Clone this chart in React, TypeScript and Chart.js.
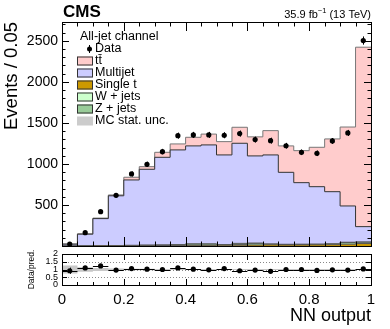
import React, { useEffect, useRef } from "react";
import { Chart, registerables } from "chart.js";
Chart.register(...registerables);

const FONT = "'Liberation Sans', Arial, Helvetica, sans-serif";

// Bin edges of the NN output histogram
const binEdges = [0, 0.05, 0.1, 0.15, 0.2, 0.25, 0.3, 0.35, 0.4, 0.45, 0.5, 0.55, 0.6, 0.65, 0.7, 0.75, 0.8, 0.85, 0.9, 0.95, 1];
const xTickValues = [0, 0.2, 0.4, 0.6, 0.8, 1];
const yTickValues = [500, 1000, 1500, 2000, 2500];
const ratioTickValues = [0, 0.5, 1, 1.5, 2];

// Observed data
const dataCounts = [23, 162, 418, 618, 878, 996, 1150, 1345, 1354, 1354, 1350, 1370, 1297, 1284, 1222, 1142, 1130, 1280, 1378, 2504];
const dataErr = [6, 13, 20, 25, 30, 32, 34, 37, 37, 37, 37, 37, 36, 36, 35, 34, 34, 36, 37, 50];

// Stacked predictions (bottom -> top: single t, Z+jets, W+jets, multijet, ttbar)
const singleTop = [0, 1, 2, 3, 4, 5, 6, 7, 8, 8, 9, 10, 12, 14, 12, 13, 14, 16, 22, 30];
const zJets = [0, 1, 1, 2, 3, 4, 5, 8, 15, 15, 6, 10, 20, 8, 6, 6, 6, 8, 20, 15];
const wJets = [0, 0, 1, 1, 1, 2, 2, 2, 3, 3, 3, 12, 3, 3, 3, 3, 3, 3, 4, 5];
const multijet = [22, 142, 330, 606, 797, 924, 1068, 1154, 1194, 1206, 1092, 1220, 1063, 1085, 877, 750, 700, 635, 442, 186];
const ttbar = [3, 4, 6, 10, 33, 32, 61, 73, 105, 132, 162, 195, 232, 296, 322, 390, 480, 643, 962, 2187];

// Ratio panel
const ratio = [0.92, 1.1, 1.23, 0.96, 1.06, 1.02, 1.0, 1.1, 1.02, 0.98, 1.06, 0.92, 0.96, 0.88, 1.0, 1.0, 0.94, 0.98, 0.96, 1.04];
const ratioErr = [0.2, 0.08, 0.05, 0.04, 0.035, 0.03, 0.03, 0.03, 0.03, 0.03, 0.03, 0.03, 0.03, 0.03, 0.03, 0.03, 0.03, 0.03, 0.03, 0.02];
const mcStatUnc = [0.26, 0.14, 0.1, 0.06, 0.05, 0.05, 0.04, 0.04, 0.04, 0.04, 0.04, 0.04, 0.04, 0.04, 0.04, 0.04, 0.04, 0.04, 0.04, 0.03];

const layers = [
  { label: "Single t", values: singleTop, fill: "#cc9900", line: "#555555" },
  { label: "Z + jets", values: zJets, fill: "#99cc99", line: "#555555" },
  { label: "W + jets", values: wJets, fill: "#ccffcc", line: "#555555" },
  { label: "Multijet", values: multijet, fill: "#ccccff", line: "#333333" },
  { label: "t\u0074\u0304", values: ttbar, fill: "#ffcccc", line: "#777777" },
];

const legendEntries = [
  { label: "t\u0074\u0304", fill: "#ffcccc" },
  { label: "Multijet", fill: "#ccccff" },
  { label: "Single t", fill: "#cc9900" },
  { label: "W + jets", fill: "#ccffcc" },
  { label: "Z + jets", fill: "#99cc99" },
  { label: "MC stat. unc.", fill: "#cccccc" },
];

const binCenters = binEdges.slice(0, -1).map((e, i) => (e + binEdges[i + 1]) / 2);

function stepPoints(vals: number[]) {
  // point at left edge of bin i carries nothing; the step into edge i+1 carries bin i
  return binEdges.map((e, i) => ({ x: e, y: vals[Math.min(i, vals.length - 1)] }));
}

function drawFrame(chart: any, yMinorStep: number, yMax: number, yMajorTest: (v: number) => boolean, xLen: [number, number], yLen: [number, number]) {
  const { ctx, chartArea: a, scales } = chart;
  const xs = scales.x;
  const ys = scales.y;
  ctx.save();
  ctx.strokeStyle = "#000";
  ctx.lineWidth = 1;
  ctx.beginPath();
  for (let k = 0; k <= 20; k++) {
    const v = k * 0.05;
    const px = Math.round(xs.getPixelForValue(v)) + 0.5;
    const major = k % 4 === 0;
    const len = major ? xLen[0] : xLen[1];
    ctx.moveTo(px, a.bottom);
    ctx.lineTo(px, a.bottom - len);
    ctx.moveTo(px, a.top);
    ctx.lineTo(px, a.top + len);
  }
  for (let v = 0; v <= yMax + 1e-9; v += yMinorStep) {
    const py = Math.round(ys.getPixelForValue(v)) + 0.5;
    const len = yMajorTest(v) ? yLen[0] : yLen[1];
    ctx.moveTo(a.left, py);
    ctx.lineTo(a.left + len, py);
    ctx.moveTo(a.right, py);
    ctx.lineTo(a.right - len, py);
  }
  ctx.stroke();
  ctx.strokeRect(Math.round(a.left) + 0.5, Math.round(a.top) + 0.5, Math.round(a.right - a.left), Math.round(a.bottom - a.top));
  ctx.restore();
}

const mainPlugin = {
  id: "mainDecor",
  afterDatasetsDraw(chart: any) {
    const { ctx, scales } = chart;
    const xs = scales.x;
    const ys = scales.y;
    ctx.save();
    ctx.strokeStyle = "#000";
    ctx.lineWidth = 1;
    ctx.beginPath();
    dataCounts.forEach((v, i) => {
      const px = Math.round(xs.getPixelForValue(binCenters[i])) + 0.5;
      ctx.moveTo(px, ys.getPixelForValue(v - dataErr[i]));
      ctx.lineTo(px, ys.getPixelForValue(v + dataErr[i]));
    });
    ctx.stroke();
    ctx.restore();
  },
  afterDraw(chart: any) {
    const { ctx, chartArea: a } = chart;
    drawFrame(chart, 100, 2700, (v) => Math.abs(v % 500) < 1e-6, [9, 4.5], [7, 3.5]);
    ctx.save();
    ctx.fillStyle = "#000";
    ctx.textBaseline = "alphabetic";
    ctx.font = `bold 17px ${FONT}`;
    ctx.textAlign = "left";
    ctx.fillText("CMS", a.left + 1, 16.5);
    const big = `11px ${FONT}`;
    const small = `7.5px ${FONT}`;
    const p1 = "35.9 fb";
    const p2 = "\u22121";
    const p3 = " (13 TeV)";
    ctx.font = big;
    const w1 = ctx.measureText(p1).width;
    const w3 = ctx.measureText(p3).width;
    ctx.font = small;
    const w2 = ctx.measureText(p2).width;
    const x0 = a.right - (w1 + w2 + w3);
    ctx.font = big;
    ctx.fillText(p1, x0, 17.5);
    ctx.font = small;
    ctx.fillText(p2, x0 + w1, 13);
    ctx.font = big;
    ctx.fillText(p3, x0 + w1 + w2, 17.5);
    // Legend
    ctx.font = `12.5px ${FONT}`;
    ctx.textBaseline = "middle";
    ctx.fillText("All-jet channel", 80, 37);
    ctx.beginPath();
    ctx.arc(89.5, 49, 2.5, 0, Math.PI * 2);
    ctx.fill();
    ctx.beginPath();
    ctx.strokeStyle = "#000";
    ctx.moveTo(89.5, 45);
    ctx.lineTo(89.5, 53);
    ctx.stroke();
    ctx.fillText("Data", 95, 49);
    legendEntries.forEach((e, i) => {
      const cy = 61 + i * 12;
      ctx.fillStyle = e.fill;
      ctx.fillRect(77, cy - 4.5, 16, 9);
      if (i < 5) {
        ctx.strokeStyle = "#333";
        ctx.strokeRect(77.5, cy - 4, 15, 8);
      }
      ctx.fillStyle = "#000";
      ctx.fillText(e.label, 95, cy);
    });
    ctx.restore();
  },
};

const ratioPlugin = {
  id: "ratioDecor",
  beforeDatasetsDraw(chart: any) {
    const { ctx, chartArea: a, scales } = chart;
    ctx.save();
    ctx.strokeStyle = "#888";
    ctx.lineWidth = 1;
    ctx.setLineDash([1, 2]);
    ctx.beginPath();
    [0.5, 1, 1.5].forEach((v) => {
      const py = Math.round(scales.y.getPixelForValue(v)) + 0.5;
      ctx.moveTo(a.left, py);
      ctx.lineTo(a.right, py);
    });
    ctx.stroke();
    ctx.restore();
  },
  afterDatasetsDraw(chart: any) {
    const { ctx, scales } = chart;
    const xs = scales.x;
    const ys = scales.y;
    ctx.save();
    ctx.strokeStyle = "#000";
    ctx.lineWidth = 1;
    ctx.beginPath();
    ratio.forEach((r, i) => {
      const px = Math.round(xs.getPixelForValue(binCenters[i])) + 0.5;
      const py = Math.round(ys.getPixelForValue(r)) + 0.5;
      ctx.moveTo(xs.getPixelForValue(binEdges[i]), py);
      ctx.lineTo(xs.getPixelForValue(binEdges[i + 1]), py);
      ctx.moveTo(px, ys.getPixelForValue(r - ratioErr[i]));
      ctx.lineTo(px, ys.getPixelForValue(r + ratioErr[i]));
    });
    ctx.stroke();
    ctx.restore();
  },
  afterDraw(chart: any) {
    drawFrame(chart, 0.5, 2, () => true, [6, 3], [5, 5]);
  },
};

export default function App() {
  const mainRef = useRef<HTMLCanvasElement>(null);
  const ratioRef = useRef<HTMLCanvasElement>(null);

  useEffect(() => {
    const cum: number[][] = [];
    layers.forEach((l, k) => {
      cum.push(l.values.map((v, i) => v + (k > 0 ? cum[k - 1][i] : 0)));
    });
    const stackSets = layers.map((l, k) => ({
      type: "line" as const,
      label: l.label,
      data: stepPoints(cum[k]),
      stepped: "before" as const,
      borderColor: l.line,
      borderWidth: 1,
      backgroundColor: l.fill,
      fill: k === 0 ? "origin" : "-1",
      pointRadius: 0,
      order: 1,
    }));
    const dataSet = {
      type: "line" as const,
      label: "Data",
      data: binCenters.map((c, i) => ({ x: c, y: dataCounts[i] })),
      showLine: false,
      pointRadius: 2.6,
      pointBackgroundColor: "#000",
      pointBorderColor: "#000",
      pointBorderWidth: 0,
      order: -1,
    };

    const main = new Chart(mainRef.current!, {
      type: "line",
      data: { datasets: [...stackSets, dataSet] as any },
      options: {
        animation: false,
        responsive: false,
        devicePixelRatio: 1,
        events: [],
        layout: { padding: { top: 22, right: 19, bottom: 4, left: 0 } },
        plugins: { legend: { display: false }, tooltip: { enabled: false } },
        scales: {
          x: { type: "linear", min: 0, max: 1, display: false },
          y: {
            type: "linear",
            min: 0,
            max: 2730,
            grid: { display: false, drawTicks: false },
            border: { display: false },
            afterBuildTicks: (s: any) => {
              s.ticks = yTickValues.map((v) => ({ value: v }));
            },
            afterFit: (s: any) => {
              s.width = 62;
              s.paddingTop = 0;
              s.paddingBottom = 0;
            },
            ticks: {
              autoSkip: false,
              padding: 4,
              color: "#000",
              font: { family: FONT, size: 14 },
              callback: (v: any) => String(v),
            },
            title: {
              display: true,
              text: "Events / 0.05",
              align: "end",
              color: "#000",
              font: { family: FONT, size: 18.5 },
              padding: { top: 1, bottom: 0 },
            },
          },
        },
      },
      plugins: [mainPlugin],
    } as any);

    const bandUp = stepPoints(mcStatUnc.map((u) => 1 + u));
    const bandDn = stepPoints(mcStatUnc.map((u) => 1 - u));
    const rat = new Chart(ratioRef.current!, {
      type: "line",
      data: {
        datasets: [
          { data: bandUp, stepped: "before", borderWidth: 0, pointRadius: 0, fill: false, borderColor: "rgba(0,0,0,0)" },
          { data: bandDn, stepped: "before", borderWidth: 0, pointRadius: 0, fill: "-1", borderColor: "rgba(0,0,0,0)", backgroundColor: "#c8c8c8" },
          {
            data: binCenters.map((c, i) => ({ x: c, y: ratio[i] })),
            showLine: false,
            pointRadius: 2.6,
            pointBackgroundColor: "#000",
            pointBorderWidth: 0,
            order: -1,
          },
        ] as any,
      },
      options: {
        animation: false,
        responsive: false,
        devicePixelRatio: 1,
        events: [],
        layout: { padding: { top: 3, right: 19, bottom: 0, left: 0 } },
        plugins: { legend: { display: false }, tooltip: { enabled: false } },
        scales: {
          x: {
            type: "linear",
            min: 0,
            max: 1,
            grid: { display: false, drawTicks: false },
            border: { display: false },
            afterBuildTicks: (s: any) => {
              s.ticks = xTickValues.map((v) => ({ value: v }));
            },
            afterFit: (s: any) => {
              s.height = 44;
              s.paddingLeft = 0;
              s.paddingRight = 0;
            },
            ticks: {
              autoSkip: false,
              maxRotation: 0,
              padding: 6,
              color: "#000",
              font: { family: FONT, size: 15 },
              callback: (v: any) => (v === 0 ? "0" : v === 1 ? "1" : Number(v).toFixed(1)),
            },
            title: {
              display: true,
              text: "NN output",
              align: "end",
              color: "#000",
              font: { family: FONT, size: 18 },
              padding: { top: 0, bottom: 2 },
            },
          },
          y: {
            type: "linear",
            min: 0,
            max: 2,
            grid: { display: false, drawTicks: false },
            border: { display: false },
            afterBuildTicks: (s: any) => {
              s.ticks = ratioTickValues.map((v) => ({ value: v }));
            },
            afterFit: (s: any) => {
              s.width = 62;
              s.paddingTop = 0;
              s.paddingBottom = 0;
            },
            ticks: {
              autoSkip: false,
              padding: 4,
              color: "#000",
              font: { family: FONT, size: 9 },
              callback: (v: any) => String(v),
            },
            title: {
              display: true,
              text: "Data/pred.",
              color: "#000",
              font: { family: FONT, size: 8.5 },
              padding: { top: 27, bottom: 0 },
            },
          },
        },
      },
      plugins: [ratioPlugin],
    } as any);

    return () => {
      main.destroy();
      rat.destroy();
    };
  }, []);

  return (
    <div style={{ position: "absolute", left: 0, top: 0, width: 390, height: 329, background: "#fff" }}>
      <canvas ref={mainRef} width={390} height={250} style={{ position: "absolute", left: 0, top: 0, width: 390, height: 250 }} />
      <canvas ref={ratioRef} width={390} height={79} style={{ position: "absolute", left: 0, top: 250, width: 390, height: 79 }} />
    </div>
  );
}
